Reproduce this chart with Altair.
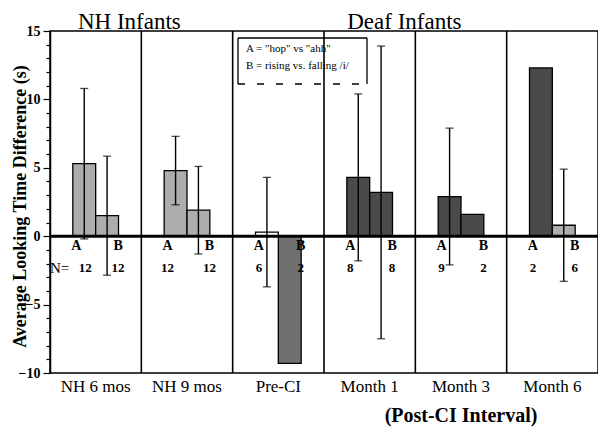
import altair as alt
import pandas as pd

FONT = "Liberation Serif"

groups = ["NH 6 mos", "NH 9 mos", "Pre-CI", "Month 1", "Month 3", "Month 6"]
conditions = ["A", "B"]
mean_a = [5.3, 4.8, 0.3, 4.3, 2.9, 12.3]
mean_b = [1.5, 1.9, -9.3, 3.2, 1.6, 0.8]
err_a = [5.5, 2.5, 4.0, 6.1, 5.0, None]
err_b = [4.35, 3.2, None, 10.7, None, 4.1]
n_a = [12, 12, 6, 8, 9, 2]
n_b = [12, 12, 2, 8, 2, 6]
y_ticks = list(range(-10, 16))
cohort_titles = ["NH Infants", "Deaf Infants"]
interval_title = ["(Post-CI Interval)"]
legend_lines = ['A = "hop" vs "ahh"', "B = rising vs. falling /i/"]
y_title = "Average Looking Time Difference (s)"

rows = []
for i, g in enumerate(groups):
    for c, m, e, n in (("A", mean_a[i], err_a[i], n_a[i]), ("B", mean_b[i], err_b[i], n_b[i])):
        rows.append({"group": g, "cond": c, "mean": m, "err": e, "n": n})
df = pd.DataFrame(rows)
df["lo"] = df["mean"] - df["err"]
df["hi"] = df["mean"] + df["err"]
df_err = df.dropna(subset=["err"])

W, H = 548, 342

xs = alt.Scale(domain=groups, paddingInner=0, paddingOuter=0)
ys = alt.Scale(domain=[-10, 15], nice=False, zero=False)

XAX = alt.Axis(title=None, domain=False, ticks=False, grid=False, labelAngle=0,
               labelFont=FONT, labelFontSize=17, labelColor="black", labelPadding=5)
YAX = alt.Axis(
    values=y_ticks,
    labelExpr="datum.value % 5 === 0 ? datum.label : ''",
    labelOverlap=False,
    tickSize={"condition": {"test": "datum.value % 5 === 0", "value": 7}, "value": 4},
    tickColor="black", tickWidth=1.2,
    domainColor="black", domainWidth=1.5,
    labelFont=FONT, labelFontSize=14, labelFontWeight="bold", labelColor="black",
    labelPadding=3, format="d",
    title=y_title, titleFont=FONT, titleFontSize=18, titleFontWeight="bold",
    titleColor="black", titleX=-30, titleY=H / 2 + 4, titleAngle=270,
    titleBaseline="middle", titleAlign="center", grid=False,
)


def xo():
    return alt.XOffset("cond:N", scale=alt.Scale(domain=conditions, paddingInner=0, paddingOuter=1.0))


def xg(**kw):
    return alt.X("group:N", scale=xs, axis=XAX, **kw)


def yq(field):
    return alt.Y(f"{field}:Q", scale=ys, axis=YAX)


shade_expr = (
    "datum.group == 'Pre-CI' ? (datum.cond == 'A' ? 'open' : 'hatch') : "
    "(indexof(['NH 6 mos','NH 9 mos'], datum.group) >= 0 || (datum.group == 'Month 6' && datum.cond == 'B')) ? 'light' : 'dark'"
)

bars = alt.Chart(df).transform_calculate(shade=shade_expr, base="0").mark_bar(
    stroke="black", strokeWidth=1.3
).encode(
    x=xg(),
    xOffset=xo(),
    y=yq("mean"),
    y2="base:Q",
    fill=alt.Fill("shade:N", scale=alt.Scale(domain=["light", "dark", "hatch", "open"],
                                              range=["#adadad", "#4a4a4a", "#707070", "white"]),
                  legend=None),
)

dividers = alt.Chart(pd.DataFrame({"group": groups[1:]})).mark_rule(
    color="black", strokeWidth=1.6
).encode(x=xg(bandPosition=0))

zero_line = alt.Chart(pd.DataFrame({"v": [0]})).mark_rule(color="black", strokeWidth=3).encode(
    y=yq("v")
)

err_rules = alt.Chart(df_err).mark_rule(color="black", strokeWidth=1.4).encode(
    x=xg(), xOffset=xo(), y=yq("lo"), y2="hi:Q"
)
cap_hi = alt.Chart(df_err).mark_tick(color="black", thickness=1.3, size=8).encode(
    x=xg(), xOffset=xo(), y=yq("hi")
)
cap_lo = alt.Chart(df_err).mark_tick(color="black", thickness=1.3, size=8).encode(
    x=xg(), xOffset=xo(), y=yq("lo")
)


def cond_labels(data, text_field, yval, dx, size):
    return alt.Chart(data).transform_calculate(
        ly=str(yval)
    ).mark_text(
        font=FONT, fontSize=size, fontWeight="bold", color="black", dx=dx, baseline="middle"
    ).encode(x=xg(), xOffset=xo(), y=yq("ly"), text=f"{text_field}:N")


dfa = df[df["cond"] == "A"]
dfb = df[df["cond"] == "B"]
letters_a = cond_labels(dfa, "cond", -0.75, -8, 14)
letters_b = cond_labels(dfb, "cond", -0.75, 11, 14)
ns_a0 = cond_labels(dfa[dfa["group"] == groups[0]], "n", -2.3, 1, 13)
ns_a = cond_labels(dfa[dfa["group"] != groups[0]], "n", -2.3, -8, 13)
ns_b = cond_labels(dfb, "n", -2.3, 11, 13)

n_eq = alt.Chart(pd.DataFrame({"group": [groups[0]], "t": ["N="]})).transform_calculate(
    ly="-2.3"
).mark_text(
    font=FONT, fontSize=15, color="black", align="left", baseline="middle", dx=0
).encode(x=xg(bandPosition=0), y=yq("ly"), text="t:N")

title_nh = alt.Chart(pd.DataFrame({"group": [groups[0]], "t": [cohort_titles[0]]})).mark_text(
    font=FONT, fontSize=23, color="black", baseline="alphabetic", dx=-12
).encode(x=xg(bandPosition=1), y=alt.value(-2), text="t:N")
title_deaf = alt.Chart(pd.DataFrame({"group": [groups[3]], "t": [cohort_titles[1]]})).mark_text(
    font=FONT, fontSize=23, color="black", baseline="alphabetic"
).encode(x=xg(bandPosition=0.88), y=alt.value(-2), text="t:N")
title_post = alt.Chart(pd.DataFrame({"group": [groups[4]], "t": interval_title})).mark_text(
    font=FONT, fontSize=20, fontWeight="bold", color="black", baseline="alphabetic"
).encode(x=xg(bandPosition=0.5), y=alt.value(H + 49), text="t:N")

one = pd.DataFrame({"k": [0]})
box_top = alt.Chart(one).mark_rule(color="black", strokeWidth=1.3).encode(
    x=alt.value(188), x2=alt.value(317), y=alt.value(7))
box_left = alt.Chart(one).mark_rule(color="black", strokeWidth=1.3).encode(
    x=alt.value(188), y=alt.value(7), y2=alt.value(53))
box_right = alt.Chart(one).mark_rule(color="black", strokeWidth=1.3).encode(
    x=alt.value(317), y=alt.value(7), y2=alt.value(53))
box_bottom = alt.Chart(one).mark_rule(color="black", strokeWidth=1.3, strokeDash=[7, 12]).encode(
    x=alt.value(188), x2=alt.value(317), y=alt.value(53))
leg_a = alt.Chart(pd.DataFrame({"t": [legend_lines[0]]})).mark_text(
    font=FONT, fontSize=11, color="black", align="left", baseline="middle"
).encode(x=alt.value(196), y=alt.value(18), text="t:N")
leg_b = alt.Chart(pd.DataFrame({"t": [legend_lines[1]]})).mark_text(
    font=FONT, fontSize=11, color="black", align="left", baseline="middle"
).encode(x=alt.value(196), y=alt.value(35), text="t:N")

chart = alt.layer(
    dividers, bars, err_rules, cap_hi, cap_lo, zero_line,
    letters_a, letters_b, ns_a0, ns_a, ns_b, n_eq,
    title_nh, title_deaf, title_post,
    box_top, box_left, box_right, box_bottom, leg_a, leg_b,
).properties(
    width=W, height=H,
    autosize=alt.AutoSizeParams(type="none"),
    padding={"left": 42, "top": 23, "right": 0, "bottom": 56},
    background="white",
).configure_view(stroke="black", strokeWidth=1.5)

chart.save("out.html", embed_options={"renderer": "svg", "actions": False})
